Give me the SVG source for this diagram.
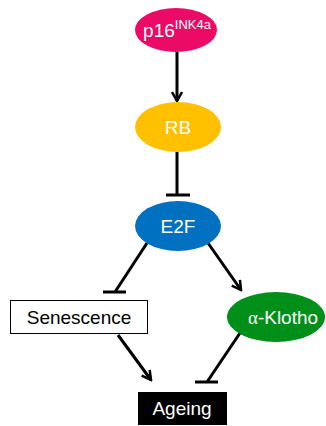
<svg xmlns="http://www.w3.org/2000/svg" width="326" height="426" viewBox="0 0 326 426">
<style>
.t{font-family:"Liberation Sans",Arial,sans-serif;font-size:19px;text-anchor:middle}
.w{fill:#fff}
.k{fill:#000}
.ln{stroke:#000;stroke-width:3;fill:none}
</style>
<defs>
<marker id="arr" viewBox="0 0 12 12" refX="10" refY="6" markerWidth="12" markerHeight="12" markerUnits="userSpaceOnUse" orient="auto">
<polyline points="1,1 10,6 1,11" fill="none" stroke="#000" stroke-width="2.5"/>
</marker>
</defs>
<rect width="326" height="426" fill="#fff"/>
<g id="connectors">
<line class="ln" x1="177" y1="52" x2="177" y2="101" marker-end="url(#arr)"/>
<line class="ln" x1="177" y1="152" x2="177" y2="195"/>
<line class="ln" x1="166" y1="195" x2="190" y2="195"/>
<line class="ln" x1="147" y1="243" x2="115" y2="292"/>
<line class="ln" x1="103" y1="292" x2="126" y2="292"/>
<line class="ln" x1="208" y1="243" x2="241" y2="290" marker-end="url(#arr)"/>
<line class="ln" x1="118" y1="335" x2="151" y2="380" marker-end="url(#arr)"/>
<line class="ln" x1="240" y1="333" x2="207" y2="382"/>
<line class="ln" x1="195" y1="382" x2="218" y2="382"/>
</g>
<g id="p16">
<ellipse cx="176" cy="30" rx="41" ry="22" fill="#EB0A66"/>
<text class="t w" x="177" y="37"><tspan>p16</tspan><tspan font-size="13" dy="-8">INK4a</tspan></text>
</g>
<g id="RB">
<ellipse cx="178" cy="127" rx="43" ry="25" fill="#FFC000"/>
<text class="t w" x="178" y="134">RB</text>
</g>
<g id="E2F">
<ellipse cx="178" cy="226" rx="43" ry="25" fill="#0070C0"/>
<text class="t w" x="178" y="233">E2F</text>
</g>
<g id="Senescence">
<rect x="10.5" y="300.5" width="137" height="33" fill="#fff" stroke="#000" stroke-width="1"/>
<text class="t k" x="79" y="324">Senescence</text>
</g>
<g id="Klotho">
<ellipse cx="276" cy="317" rx="49" ry="25" fill="#00901A"/>
<text class="t w" x="283" y="324"><tspan font-family="'Liberation Serif',serif">α</tspan>-Klotho</text>
</g>
<g id="Ageing">
<rect x="138" y="392" width="89" height="33" fill="#000"/>
<text class="t w" x="182" y="415">Ageing</text>
</g>
</svg>
